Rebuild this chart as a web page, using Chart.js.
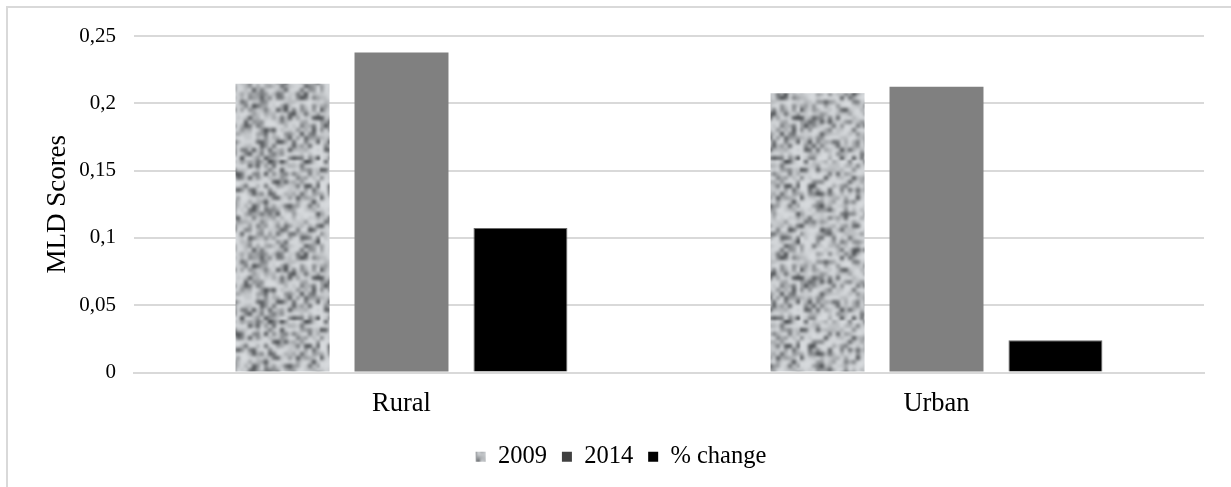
<!DOCTYPE html>
<html>
<head>
<meta charset="utf-8">
<script src="https://cdn.jsdelivr.net/npm/chart.js@4.4.1/dist/chart.umd.min.js"></script>
<style>
  html, body { margin: 0; padding: 0; background: #fff; overflow: hidden; }
  #frame { position: absolute; left: 6px; top: 6px; width: 1400px; height: 700px; border: 2px solid #d9d9d9; }
  #wrap { position: absolute; left: 0; top: 0; width: 1231px; height: 487px; }
</style>
</head>
<body>
<div id="frame"></div>
<div id="wrap"><canvas id="chart" width="1231" height="487"></canvas></div>
<script>
const categories = ['Rural', 'Urban'];
const seriesLabels = ['2009', '2014', '% change'];
const values2009 = [0.2145, 0.2075];
const values2014 = [0.2378, 0.2123];
const valuesChange = [0.1073, 0.024];
const yTicks = [0, 0.05, 0.1, 0.15, 0.2, 0.25];

const serif = "'Liberation Serif', 'Times New Roman', serif";
const gridGrey = '#d9d9d9';

const canvas = document.getElementById('chart');
const ctx = canvas.getContext('2d');

// grey mottled fill used for the 2009 bars
function speckle() {
    const n = 40, scale = 4, N = n * scale;
    const src = document.createElement('canvas');
    src.width = src.height = n;
    const sctx = src.getContext('2d');
    const img = sctx.createImageData(n, n);
    for (let y = 0; y < n; y++) {
        for (let x = 0; x < n; x++) {
            const h = Math.abs(Math.sin(x * 12.9898 + y * 78.233) * 43758.5453) % 1;
            const g = 216 - 155 * Math.pow(h, 2.6);
            const i = (y * n + x) * 4;
            img.data[i] = g;
            img.data[i + 1] = g + 3;
            img.data[i + 2] = g + 6;
            img.data[i + 3] = 255;
        }
    }
    sctx.putImageData(img, 0, 0);

    // lay out 3x3 copies so the blur wraps around the tile edges
    const big = document.createElement('canvas');
    big.width = big.height = 3 * N;
    const bctx = big.getContext('2d');
    bctx.imageSmoothingEnabled = true;
    for (let i = 0; i < 3; i++) {
        for (let j = 0; j < 3; j++) bctx.drawImage(src, i * N, j * N, N, N);
    }
    const tile = document.createElement('canvas');
    tile.width = tile.height = N;
    const tctx = tile.getContext('2d');
    tctx.filter = 'blur(0.9px)';
    tctx.drawImage(big, -N, -N);
    return ctx.createPattern(tile, 'repeat');
}

const fmt = v => Number(v.toFixed(2)).toString().replace('.', ',');

new Chart(ctx, {
    type: 'bar',
    data: {
        labels: categories,
        datasets: [
            { label: seriesLabels[0], data: values2009, backgroundColor: speckle() },
            { label: seriesLabels[1], data: values2014, backgroundColor: '#808080' },
            { label: seriesLabels[2], data: valuesChange, backgroundColor: '#000000', borderColor: '#6a6a6a', borderWidth: 1 }
        ]
    },
    options: {
        responsive: false,
        animation: false,
        devicePixelRatio: 1,
        categoryPercentage: 0.667,
        barPercentage: 0.79,
        layout: { padding: { left: 38, top: 36, right: 27, bottom: 8 } },
        scales: {
            x: {
                grid: { display: false },
                border: { color: gridGrey, width: 2 },
                ticks: { color: '#000', padding: 8, font: { family: serif, size: 26.5 } },
                afterFit: s => { s.height = 57; }
            },
            y: {
                min: 0,
                max: 0.25,
                afterBuildTicks: s => { s.ticks = yTicks.map(v => ({ value: v })); },
                grid: { color: gridGrey, lineWidth: 2, drawTicks: false },
                border: { display: false },
                ticks: { color: '#000', padding: 18, font: { family: serif, size: 21 }, callback: v => fmt(v) },
                title: { display: true, text: 'MLD Scores', color: '#000', padding: { top: 4, bottom: 0 }, font: { family: serif, size: 27 } },
                afterFit: s => { s.width = 96; }
            }
        },
        plugins: {
            tooltip: { enabled: false },
            legend: {
                position: 'bottom',
                labels: {
                    color: '#000',
                    boxWidth: 10,
                    boxHeight: 10,
                    padding: 15,
                    font: { family: serif, size: 24.5 },
                    generateLabels: chart => {
                        const items = Chart.defaults.plugins.legend.labels.generateLabels(chart);
                        items.forEach(it => { it.lineWidth = 0; });
                        items[1].fillStyle = '#404040';
                        return items;
                    }
                }
            }
        }
    }
});
</script>
</body>
</html>
